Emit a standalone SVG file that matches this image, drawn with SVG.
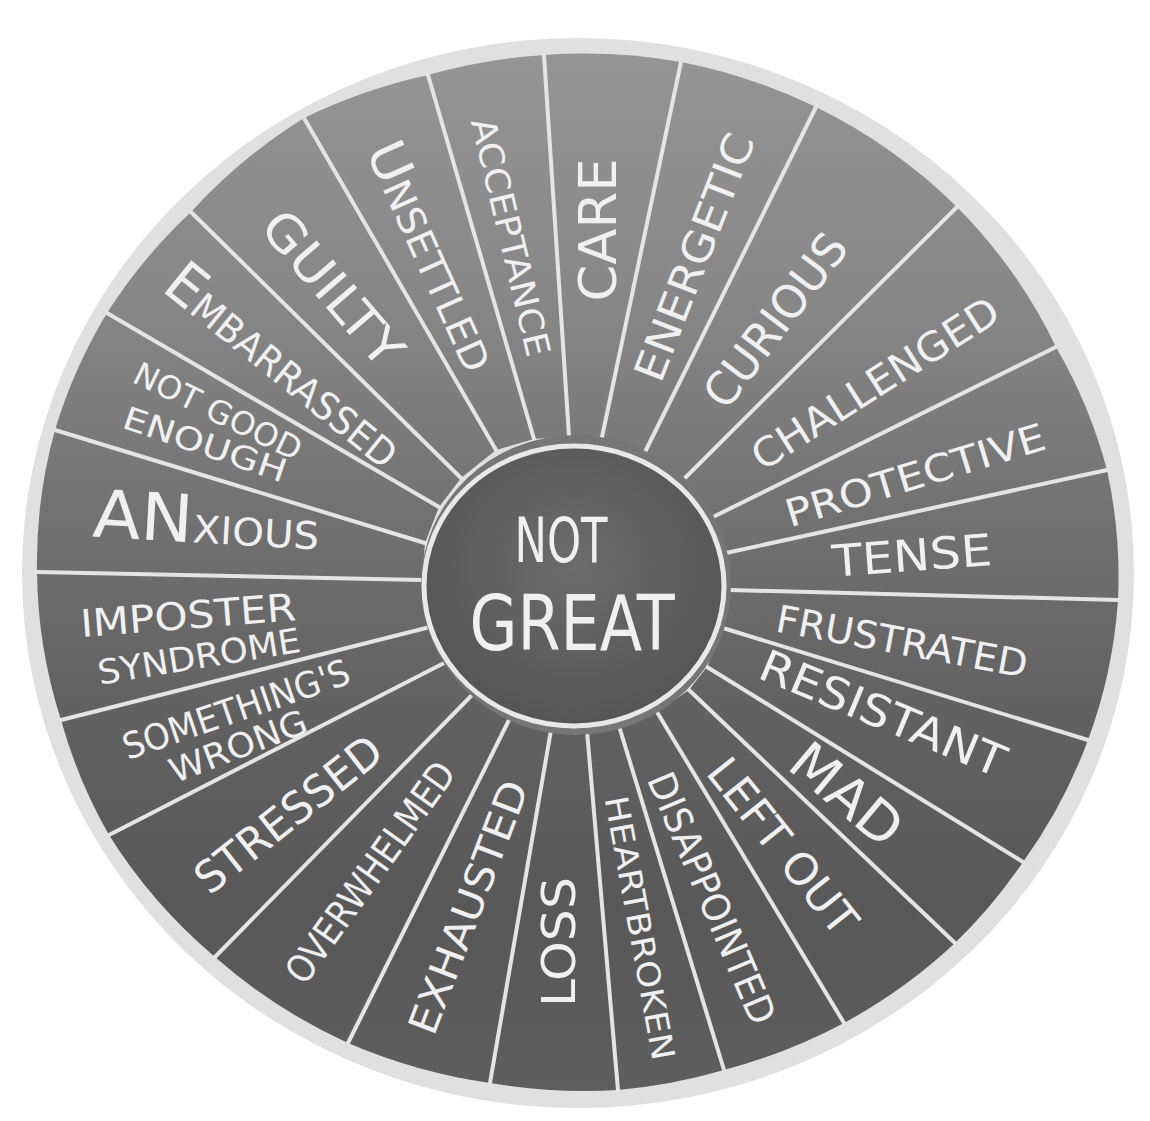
<svg xmlns="http://www.w3.org/2000/svg" width="1150" height="1121" viewBox="0 0 1150 1121">
<defs>
<linearGradient id="disk" gradientUnits="userSpaceOnUse" x1="0" y1="50" x2="0" y2="1100">
<stop offset="0" stop-color="#959595"/>
<stop offset="0.25" stop-color="#868686"/>
<stop offset="0.45" stop-color="#717171"/>
<stop offset="0.62" stop-color="#626262"/>
<stop offset="0.82" stop-color="#585858"/>
<stop offset="1" stop-color="#5e5e5e"/>
</linearGradient>
<radialGradient id="hub" cx="0.5" cy="0.42" r="0.6">
<stop offset="0" stop-color="#6c6c6c"/>
<stop offset="1" stop-color="#545454"/>
</radialGradient>
<style>
.w{fill:url(#disk);}
.lbl{font-family:"DejaVu Sans","Liberation Sans",sans-serif;font-stretch:condensed;fill:#f0f0f0;text-anchor:middle;}
.sp{stroke:#e4e4e4;stroke-width:4;stroke-linecap:round;fill:none;}
</style>
</defs>
<rect width="1150" height="1121" fill="#ffffff"/>
<ellipse id="rim" cx="578" cy="573" rx="556" ry="535" fill="#e0e0e0"/>

<g id="w-care"><path class="w" d="M569,436 L544,55 A541,518 0 0 1 681,62 L602,437 Z"/>
<text class="lbl" x="597" y="230" dy="0.36em" font-size="52" textLength="143" lengthAdjust="spacingAndGlyphs" transform="rotate(-90 597 230)">CARE</text></g>
<g id="w-energetic"><path class="w" d="M602,437 L681,62 A541,518 0 0 1 816,107 L645,452 Z"/>
<text class="lbl" x="694" y="257" dy="0.36em" font-size="42" textLength="262" lengthAdjust="spacingAndGlyphs" transform="rotate(-68.8 694 257)">ENERGETIC</text></g>
<g id="w-curious"><path class="w" d="M645,452 L816,107 A541,518 0 0 1 957,207 L685,478 Z"/>
<text class="lbl" x="775" y="320" dy="0.36em" font-size="46" textLength="205" lengthAdjust="spacingAndGlyphs" transform="rotate(-52.8 775 320)">CURIOUS</text></g>
<g id="w-challenged"><path class="w" d="M685,478 L957,207 A541,518 0 0 1 1056,347 L711,518 Z"/>
<text class="lbl" x="875" y="383" dy="0.36em" font-size="40" textLength="285" lengthAdjust="spacingAndGlyphs" transform="rotate(-32.5 875 383)">CHALLENGED</text></g>
<g id="w-protective"><path class="w" d="M711,518 L1056,347 A541,518 0 0 1 1107,470 L726,553 Z"/>
<text class="lbl" x="915" y="475" dy="0.36em" font-size="38" textLength="270" lengthAdjust="spacingAndGlyphs" transform="rotate(-17 915 475)">PROTECTIVE</text></g>
<g id="w-tense"><path class="w" d="M726,553 L1107,470 A541,518 0 0 1 1118,600 L730,590 Z"/>
<text class="lbl" x="912" y="555" dy="0.36em" font-size="44" textLength="160" lengthAdjust="spacingAndGlyphs" transform="rotate(-4.2 912 555)">TENSE</text></g>
<g id="w-frustrated"><path class="w" d="M730,590 L1118,600 A541,518 0 0 1 1088,740 L723,628 Z"/>
<text class="lbl" x="902" y="641" dy="0.36em" font-size="38" textLength="255" lengthAdjust="spacingAndGlyphs" transform="rotate(10.5 902 641)">FRUSTRATED</text></g>
<g id="w-resistant"><path class="w" d="M723,628 L1088,740 A541,518 0 0 1 1023,862 L707,667 Z"/>
<text class="lbl" x="883" y="713" dy="0.36em" font-size="44" textLength="262" lengthAdjust="spacingAndGlyphs" transform="rotate(22.6 883 713)">RESISTANT</text></g>
<g id="w-mad"><path class="w" d="M707,667 L1023,862 A541,518 0 0 1 955,943 L689,690 Z"/>
<text class="lbl" x="847" y="794" dy="0.36em" font-size="54" textLength="128" lengthAdjust="spacingAndGlyphs" transform="rotate(40 847 794)">MAD</text></g>
<g id="w-leftout"><path class="w" d="M689,690 L955,943 A541,518 0 0 1 844,1023 L657,712 Z"/>
<text class="lbl" x="783" y="846" dy="0.36em" font-size="44" textLength="212" lengthAdjust="spacingAndGlyphs" transform="rotate(51.5 783 846)">LEFT OUT</text></g>
<g id="w-disappointed"><path class="w" d="M657,712 L844,1023 A541,518 0 0 1 724,1070 L619,726 Z"/>
<text class="lbl" x="712" y="898" dy="0.36em" font-size="38" textLength="270" lengthAdjust="spacingAndGlyphs" transform="rotate(66.9 712 898)">DISAPPOINTED</text></g>
<g id="w-heartbroken"><path class="w" d="M619,726 L724,1070 A541,518 0 0 1 618,1090 L587,731 Z"/>
<text class="lbl" x="640" y="928" dy="0.36em" font-size="32" textLength="268" lengthAdjust="spacingAndGlyphs" transform="rotate(79.6 640 928)">HEARTBROKEN</text></g>
<g id="w-loss"><path class="w" d="M587,731 L618,1090 A541,518 0 0 1 490,1083 L551,730 Z"/>
<text class="lbl" x="558" y="942" dy="0.36em" font-size="46" textLength="130" lengthAdjust="spacingAndGlyphs" transform="rotate(-90 558 942)">LOSS</text></g>
<g id="w-exhausted"><path class="w" d="M551,730 L490,1083 A541,518 0 0 1 348,1043 L510,718 Z"/>
<text class="lbl" x="468" y="907" dy="0.36em" font-size="40" textLength="268" lengthAdjust="spacingAndGlyphs" transform="rotate(-69.1 468 907)">EXHAUSTED</text></g>
<g id="w-overwhelmed"><path class="w" d="M510,718 L348,1043 A541,518 0 0 1 215,957 L473,694 Z"/>
<text class="lbl" x="370" y="872" dy="0.36em" font-size="38" textLength="262" lengthAdjust="spacingAndGlyphs" transform="rotate(-54.4 370 872)">OVERWHELMED</text></g>
<g id="w-stressed"><path class="w" d="M473,694 L215,957 A541,518 0 0 1 109,835 L446,662 Z"/>
<text class="lbl" x="288" y="814" dy="0.36em" font-size="44" textLength="225" lengthAdjust="spacingAndGlyphs" transform="rotate(-38.2 288 814)">STRESSED</text></g>
<g id="w-somethings-wrong"><path class="w" d="M446,662 L109,835 A541,518 0 0 1 61,720 L430,627 Z"/>
<text class="lbl" x="236" y="709" dy="0.36em" font-size="36" textLength="238" lengthAdjust="spacingAndGlyphs" transform="rotate(-19 236 709)">SOMETHING'S</text>
<text class="lbl" x="238" y="746" dy="0.36em" font-size="34" textLength="145" lengthAdjust="spacingAndGlyphs" transform="rotate(-21 238 746)">WRONG</text></g>
<g id="w-imposter"><path class="w" d="M430,627 L61,720 A541,518 0 0 1 37,572 L422,580 Z"/>
<text class="lbl" x="188" y="615" dy="0.36em" font-size="38" textLength="216" lengthAdjust="spacingAndGlyphs" transform="rotate(-4.5 188 615)">IMPOSTER</text>
<text class="lbl" x="199" y="656" dy="0.36em" font-size="34" textLength="205" lengthAdjust="spacingAndGlyphs" transform="rotate(-9.3 199 656)">SYNDROME</text></g>
<g id="w-anxious"><path class="w" d="M422,580 L37,572 A541,518 0 0 1 55,430 L425,543 Z"/>
<text class="lbl" x="205" y="543" textLength="227" lengthAdjust="spacingAndGlyphs" transform="rotate(3.3 205 543)"><tspan font-size="66">AN</tspan><tspan font-size="38">XIOUS</tspan></text></g>
<g id="w-not-good-enough"><path class="w" d="M425,543 L55,430 A541,518 0 0 1 107,313 L439,507 Z"/>
<text class="lbl" x="218" y="411" dy="0.36em" font-size="32" textLength="183" lengthAdjust="spacingAndGlyphs" transform="rotate(25.9 218 411)">NOT GOOD</text>
<text class="lbl" x="205" y="444" dy="0.36em" font-size="32" textLength="171" lengthAdjust="spacingAndGlyphs" transform="rotate(18.9 205 444)">ENOUGH</text></g>
<g id="w-embarrassed"><path class="w" d="M439,507 L107,313 A541,518 0 0 1 191,212 L461,478 Z"/>
<text class="lbl" x="272" y="380" textLength="287" lengthAdjust="spacingAndGlyphs" transform="rotate(39 272 380)"><tspan font-size="58">E</tspan><tspan font-size="38">MBARRASSED</tspan></text></g>
<g id="w-guilty"><path class="w" d="M461,478 L191,212 A541,518 0 0 1 304,118 L496,450 Z"/>
<text class="lbl" x="333" y="288" dy="0.36em" font-size="50" textLength="188" lengthAdjust="spacingAndGlyphs" transform="rotate(49.4 333 288)">GUILTY</text></g>
<g id="w-unsettled"><path class="w" d="M496,450 L304,118 A541,518 0 0 1 428,75 L534,439 Z"/>
<text class="lbl" x="416" y="263" textLength="246" lengthAdjust="spacingAndGlyphs" transform="rotate(65.7 416 263)"><tspan font-size="52">U</tspan><tspan font-size="38">NSETTLED</tspan></text></g>
<g id="w-acceptance"><path class="w" d="M534,439 L428,75 A541,518 0 0 1 544,55 L569,436 Z"/>
<text class="lbl" x="511" y="237" dy="0.36em" font-size="34" textLength="244" lengthAdjust="spacingAndGlyphs" transform="rotate(76.6 511 237)">ACCEPTANCE</text></g>

<g id="spokes">
<line class="sp" x1="569" y1="436" x2="544" y2="55"/>
<line class="sp" x1="602" y1="437" x2="681" y2="62"/>
<line class="sp" x1="645" y1="452" x2="816" y2="107"/>
<line class="sp" x1="685" y1="478" x2="957" y2="207"/>
<line class="sp" x1="711" y1="518" x2="1056" y2="347"/>
<line class="sp" x1="726" y1="553" x2="1107" y2="470"/>
<line class="sp" x1="730" y1="590" x2="1118" y2="600"/>
<line class="sp" x1="723" y1="628" x2="1088" y2="740"/>
<line class="sp" x1="707" y1="667" x2="1023" y2="862"/>
<line class="sp" x1="689" y1="690" x2="955" y2="943"/>
<line class="sp" x1="657" y1="712" x2="844" y2="1023"/>
<line class="sp" x1="619" y1="726" x2="724" y2="1070"/>
<line class="sp" x1="587" y1="731" x2="618" y2="1090"/>
<line class="sp" x1="551" y1="730" x2="490" y2="1083"/>
<line class="sp" x1="510" y1="718" x2="348" y2="1043"/>
<line class="sp" x1="473" y1="694" x2="215" y2="957"/>
<line class="sp" x1="446" y1="662" x2="109" y2="835"/>
<line class="sp" x1="430" y1="627" x2="61" y2="720"/>
<line class="sp" x1="422" y1="580" x2="37" y2="572"/>
<line class="sp" x1="425" y1="543" x2="55" y2="430"/>
<line class="sp" x1="439" y1="507" x2="107" y2="313"/>
<line class="sp" x1="461" y1="478" x2="191" y2="212"/>
<line class="sp" x1="496" y1="450" x2="304" y2="118"/>
<line class="sp" x1="534" y1="439" x2="428" y2="75"/>
</g>

<g id="hub">
<ellipse cx="576" cy="585" rx="155" ry="150" fill="#767676"/>
<ellipse cx="574" cy="586" rx="150" ry="140" fill="url(#hub)" stroke="#e8e8e8" stroke-width="5"/>
<text class="lbl" x="561" y="540" dy="0.36em" font-size="62" textLength="93" lengthAdjust="spacingAndGlyphs">NOT</text>
<text class="lbl" x="572" y="623" dy="0.36em" font-size="76" textLength="205" lengthAdjust="spacingAndGlyphs">GREAT</text>
</g>
</svg>
